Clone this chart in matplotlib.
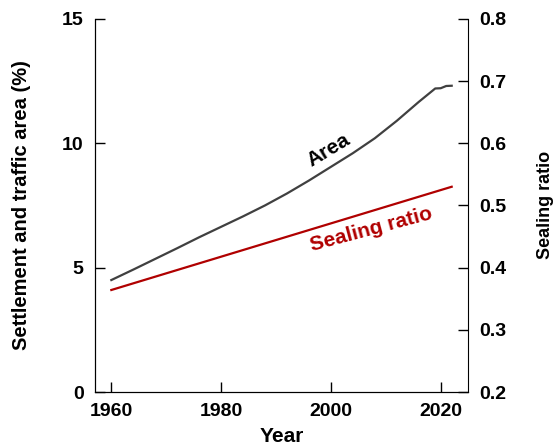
import numpy as np
import matplotlib.pyplot as plt

plt.rcParams['font.family'] = ['Liberation Sans', 'DejaVu Sans']
plt.rcParams['font.weight'] = 'bold'
plt.rcParams['font.size'] = 14

# settlement and traffic area share (%)
area_years = [1960, 1964, 1968, 1972, 1976, 1980, 1984, 1988, 1992, 1996,
              2000, 2004, 2008, 2012, 2016, 2019, 2020, 2021, 2022]
area_pct = [4.5, 4.92, 5.35, 5.78, 6.22, 6.64, 7.06, 7.5, 7.98, 8.5,
            9.05, 9.6, 10.2, 10.9, 11.66, 12.2, 12.21, 12.3, 12.31]

# sealing ratio (right axis)
seal_years = [1960, 2022]
seal_ratio = [0.364, 0.530]

x_ticks = [1960, 1980, 2000, 2020]
left_ticks = [0, 5, 10, 15]
right_ticks = [0.2, 0.3, 0.4, 0.5, 0.6, 0.7, 0.8]

fig = plt.figure(figsize=(5.58, 4.48), dpi=100)
ax = fig.add_axes([0.170, 0.125, 0.669, 0.833])
ax2 = ax.twinx()

ax.plot(area_years, area_pct, color='#404040', lw=1.6)
ax2.plot(seal_years, seal_ratio, color='#b00000', lw=1.6)

ax.set_xlim(1957, 2025)
ax.set_ylim(0, 15)
ax2.set_ylim(0.2, 0.8)
ax.set_xticks(x_ticks, [str(t) for t in x_ticks], fontweight='bold')
ax.set_yticks(left_ticks, [str(t) for t in left_ticks], fontweight='bold')
ax2.set_yticks(right_ticks, ['%.1f' % t for t in right_ticks], fontweight='bold')

for a in (ax, ax2):
    a.spines['top'].set_visible(False)
    a.tick_params(direction='in', length=7, width=1, pad=8)
ax.spines['right'].set_visible(False)

ax.set_xlabel('Year', labelpad=5, fontsize=15, fontweight='bold')
ax.set_ylabel('Settlement and traffic area (%)', labelpad=22, fontsize=14.5, fontweight='bold')
ax2.set_ylabel('Sealing ratio', labelpad=22, fontsize=13, fontweight='bold')

ax.text(1999.5, 9.7, 'Area', rotation=31, ha='center', va='center', color='black',
        fontsize=15, fontweight='bold')
ax2.text(2007.3, 0.461, 'Sealing ratio', rotation=15, ha='center', va='center', color='#b00000',
         fontsize=15, fontweight='bold')

fig.savefig('out.png', dpi=100)
